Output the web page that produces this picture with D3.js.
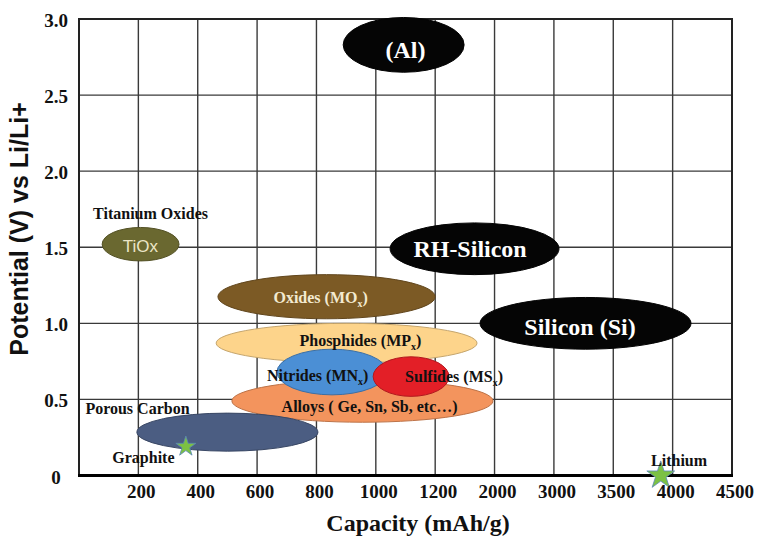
<!DOCTYPE html>
<html>
<head>
<meta charset="utf-8">
<script src="https://cdn.jsdelivr.net/npm/d3@7"></script>
<style>
  body { margin: 0; background: #fff; }
  svg { display: block; }
</style>
</head>
<body>
<svg id="chart" width="762" height="539"></svg>
<script>
// axis ticks (x axis is not linear: each step is one grid cell)
const xTicks = [0, 200, 400, 600, 800, 1000, 1200, 2000, 3000, 3500, 4000, 4500];
const yTicks = [0, 0.5, 1.0, 1.5, 2.0, 2.5, 3.0];

// material regions, bounds in mAh/g and V
const regions = ["Al", "TiOx", "RH-Silicon", "Silicon", "Oxides", "Phosphides", "Alloys", "Nitrides", "Sulfides", "Porous Carbon"];
const capMin = [890, 78, 1048, 1804, 468, 462, 515, 667, 991, 195];
const capMax = [1590, 337, 3043, 4155, 1200, 1764, 1979, 1038, 1386, 805];
const potMin = [2.65, 1.41, 1.32, 0.83, 1.03, 0.74, 0.35, 0.53, 0.52, 0.16];
const potMax = [3.01, 1.63, 1.66, 1.17, 1.32, 1.00, 0.63, 0.83, 0.78, 0.41];
const regionColors = ["#050505", "#6a6830", "#050505", "#050505", "#7c5a25", "#fdd48b", "#f3945d", "#4b8fd5", "#e31f27", "#4b5d82"];

// text inside / beside each region: [main, subscript, tail]
const labelParts = [["(Al)"], ["TiOx"], ["RH-Silicon"], ["Silicon (Si)"], ["Oxides (MO", "x", ")"],
  ["Phosphides (MP", "x", ")"], ["Alloys ( Ge, Sn, Sb, etc\u2026)"], ["Nitrides (MN", "x", ")"], ["Sulfides (MS", "x", ")"], []];
const labelCap = [1100, 207, 1670, 3220, 814, 948, 979, 804, 1454, null];
const labelPot = [2.80, 1.51, 1.49, 0.98, 1.17, 0.89, 0.45, 0.66, 0.65, null];

// annotations
const notes = ["Titanium Oxides", "Porous Carbon", "Graphite", "Lithium"];
const noteCap = [241, 197, 217, 4054];
const notePot = [1.72, 0.44, 0.12, 0.10];

// reference points (stars)
const points = ["Graphite", "Lithium"];
const pointCap = [360, 3900];
const pointPot = [0.19, 0.0];

const svg = d3.select("#chart");
const plotLeft = 79, plotRight = 732, plotTop = 19, plotBottom = 475.5;

const x = d3.scaleLinear()
    .domain(xTicks)
    .range(xTicks.map((d, i) => plotLeft + i * (plotRight - plotLeft) / (xTicks.length - 1)));
const y = d3.scaleLinear().domain([0, 3]).range([plotBottom, plotTop]);

const serif = "'Liberation Serif', 'Times New Roman', serif";
const sans = "'Liberation Sans', Arial, sans-serif";

// grid
const grid = svg.append("g");
xTicks.slice(1, -1).forEach(t => {
    grid.append("line")
        .attr("x1", x(t)).attr("x2", x(t))
        .attr("y1", plotTop).attr("y2", plotBottom)
        .attr("stroke", "#3a3a3a").attr("stroke-width", 1.4);
});
yTicks.slice(1, -1).forEach(t => {
    grid.append("line")
        .attr("x1", plotLeft).attr("x2", plotRight)
        .attr("y1", y(t)).attr("y2", y(t))
        .attr("stroke", "#3a3a3a").attr("stroke-width", 1.4);
});
// frame
grid.append("path")
    .attr("d", `M${plotLeft},${plotBottom} V${plotTop} H${plotRight} V${plotBottom}`)
    .attr("fill", "none").attr("stroke", "#222").attr("stroke-width", 2);

// regions
regions.forEach((r, i) => {
    let x0 = x(capMin[i]), x1 = x(capMax[i]);
    let y0 = y(potMax[i]), y1 = y(potMin[i]);
    svg.append("ellipse")
        .attr("cx", (x0 + x1) / 2)
        .attr("cy", (y0 + y1) / 2)
        .attr("rx", (x1 - x0) / 2)
        .attr("ry", (y1 - y0) / 2)
        .attr("fill", regionColors[i])
        .attr("stroke", d3.color(regionColors[i]).darker(0.7))
        .attr("stroke-width", 1);
});

// x axis line
svg.append("line")
    .attr("x1", plotLeft - 1).attr("x2", plotRight + 1)
    .attr("y1", plotBottom).attr("y2", plotBottom)
    .attr("stroke", "#000").attr("stroke-width", 3);

// stars
points.forEach((p, i) => {
    svg.append("path")
        .attr("d", d3.symbol(d3.symbolStar, i === 0 ? 125 : 240)())
        .attr("transform", `translate(${x(pointCap[i])},${y(pointPot[i])})`)
        .attr("fill", "#7cc143")
        .attr("stroke", "#5a86b8")
        .attr("stroke-width", 0.8);
});

// region labels
labelParts.forEach((parts, i) => {
    if (!parts.length) return;
    let big = regionColors[i] === "#050505";
    let fs = big ? 24 : (regions[i] === "TiOx" ? 17 : 16);
    let fill = big ? "#fff" : (regions[i] === "TiOx" ? "#ebe5c6" : (regions[i] === "Oxides" ? "#f3ead1" : "#111"));
    let t = svg.append("text")
        .attr("x", x(labelCap[i]))
        .attr("y", y(labelPot[i]) + fs * 0.34)
        .attr("text-anchor", "middle")
        .attr("font-family", regions[i] === "TiOx" ? sans : serif)
        .attr("font-weight", regions[i] === "TiOx" ? "normal" : "bold")
        .attr("font-size", fs)
        .attr("fill", fill);
    t.append("tspan").text(parts[0]);
    if (parts.length > 1) {
        t.append("tspan").attr("font-size", fs * 0.62).attr("dy", 4).text(parts[1]);
        t.append("tspan").attr("dy", -4).text(parts[2]);
    }
});

// annotations
notes.forEach((n, i) => {
    svg.append("text")
        .attr("x", x(noteCap[i]))
        .attr("y", y(notePot[i]) + 5.5)
        .attr("text-anchor", "middle")
        .attr("font-family", serif)
        .attr("font-weight", "bold")
        .attr("font-size", 16)
        .attr("fill", "#111")
        .text(n);
});

// y tick labels
yTicks.forEach(t => {
    svg.append("text")
        .attr("x", 56)
        .attr("y", y(t) + 8)
        .attr("text-anchor", "middle")
        .attr("font-family", serif)
        .attr("font-weight", "bold")
        .attr("font-size", 19)
        .attr("fill", "#111")
        .text(t === 0 ? "0" : d3.format(".1f")(t));
});

// x tick labels
xTicks.slice(1).forEach(t => {
    svg.append("text")
        .attr("x", x(t) + 3)
        .attr("y", 497.5)
        .attr("text-anchor", "middle")
        .attr("font-family", serif)
        .attr("font-weight", "bold")
        .attr("font-size", 19)
        .attr("fill", "#111")
        .text(t);
});

// axis titles
svg.append("text")
    .attr("x", 418)
    .attr("y", 531)
    .attr("text-anchor", "middle")
    .attr("font-family", serif)
    .attr("font-weight", "bold")
    .attr("font-size", 24)
    .attr("fill", "#111")
    .text("Capacity (mAh/g)");

svg.append("text")
    .attr("transform", "translate(28,229) rotate(-90)")
    .attr("text-anchor", "middle")
    .attr("font-family", sans)
    .attr("font-weight", "bold")
    .attr("font-size", 25)
    .attr("fill", "#111")
    .text("Potential (V) vs Li/Li+");
</script>
</body>
</html>
